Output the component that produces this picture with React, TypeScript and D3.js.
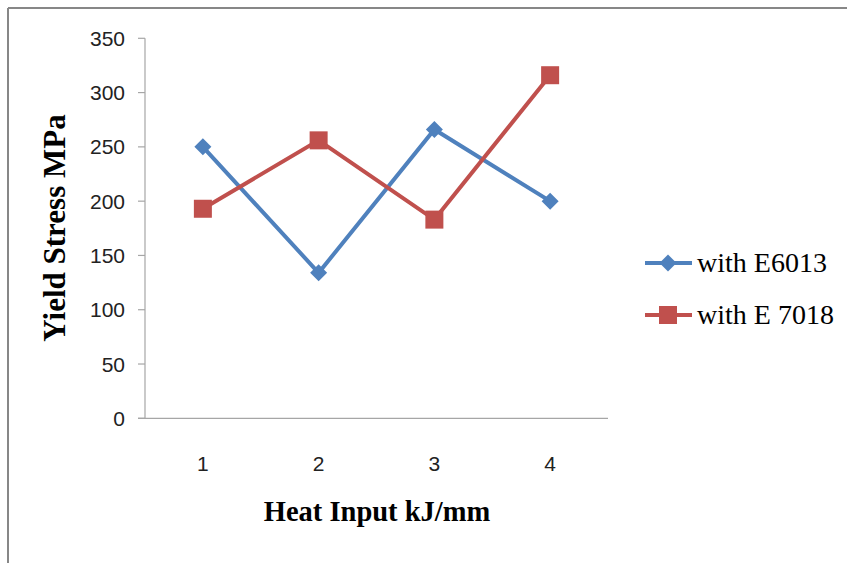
import React from "react";
import * as d3 from "d3";

const categories = ["1", "2", "3", "4"];
const seriesNames = ["with E6013", "with E 7018"];
const e6013 = [250, 134, 266, 200];
const e7018 = [193, 256, 183, 316];
const yTicks = [0, 50, 100, 150, 200, 250, 300, 350];
const colors = ["#4F81BD", "#C0504D"];

const W = 847;
const H = 563;

export default function App() {
  const x = d3.scaleBand<string>().domain(categories).range([145, 608]);
  const y = d3.scaleLinear().domain([0, 350]).range([418.3, 38.3]);
  const line = d3
    .line<number>()
    .x((_, i) => (x(categories[i]) as number) + x.bandwidth() / 2)
    .y((d) => y(d));
  const series = [e6013, e7018];
  const tickFont = "'Liberation Sans', 'Open Sans', sans-serif";
  const serif = "'Liberation Serif', 'Times New Roman', serif";

  const marker = (k: number, cx: number, cy: number, key: string) =>
    k === 0 ? (
      <path
        key={key}
        d={`M${cx},${cy - 8.5}L${cx + 8.5},${cy}L${cx},${cy + 8.5}L${cx - 8.5},${cy}Z`}
        fill={colors[0]}
      />
    ) : (
      <rect key={key} x={cx - 9} y={cy - 9} width={18} height={18} fill={colors[1]} />
    );

  return (
    <div style={{ position: "absolute", left: 0, top: 0 }}>
      <svg width={W} height={H} style={{ display: "block" }}>
        <rect x={0} y={0} width={W} height={H} fill="#fff" />
        <line x1={8} y1={8} x2={W} y2={8} stroke="#878787" strokeWidth={2} />
        <line x1={8} y1={8} x2={8} y2={H} stroke="#878787" strokeWidth={2} />
        {/* y axis */}
        <line x1={145} y1={38.3} x2={145} y2={418.3} stroke="#a6a6a6" strokeWidth={1.2} />
        {yTicks.map((t) => (
          <g key={t}>
            <line x1={138} x2={145} y1={y(t)} y2={y(t)} stroke="#a6a6a6" strokeWidth={1.2} />
            <text
              x={125}
              y={y(t)}
              textAnchor="end"
              dominantBaseline="central"
              fontFamily={tickFont}
              fontSize={21}
              fill="#222"
            >
              {t}
            </text>
          </g>
        ))}
        {/* x axis */}
        <line x1={138} y1={418.3} x2={608} y2={418.3} stroke="#a6a6a6" strokeWidth={1.2} />
        {categories.map((c) => (
          <text
            key={c}
            x={(x(c) as number) + x.bandwidth() / 2}
            y={463}
            textAnchor="middle"
            dominantBaseline="central"
            fontFamily={tickFont}
            fontSize={21}
            fill="#222"
          >
            {c}
          </text>
        ))}
        {/* series */}
        {series.map((s, k) => (
          <g key={k}>
            <path d={line(s) as string} fill="none" stroke={colors[k]} strokeWidth={4} />
            {s.map((v, i) =>
              marker(k, (x(categories[i]) as number) + x.bandwidth() / 2, y(v), `${k}-${i}`)
            )}
          </g>
        ))}
        {/* axis titles */}
        <text
          x={377}
          y={521}
          textAnchor="middle"
          fontFamily={serif}
          fontWeight="bold"
          fontSize={28.5}
          fill="#000"
        >
          Heat Input kJ/mm
        </text>
        <text
          transform={`translate(65,228) rotate(-90)`}
          textAnchor="middle"
          fontFamily={serif}
          fontWeight="bold"
          fontSize={31}
          fill="#000"
        >
          Yield Stress MPa
        </text>
        {/* legend */}
        {seriesNames.map((n, k) => {
          const ly = k === 0 ? 263 : 315;
          return (
            <g key={n}>
              <line x1={645} x2={692} y1={ly} y2={ly} stroke={colors[k]} strokeWidth={4} />
              {marker(k, 668, ly, `lg${k}`)}
              <text x={697} y={ly + 9} fontFamily={serif} fontSize={28} fill="#000">
                {n}
              </text>
            </g>
          );
        })}
      </svg>
    </div>
  );
}
